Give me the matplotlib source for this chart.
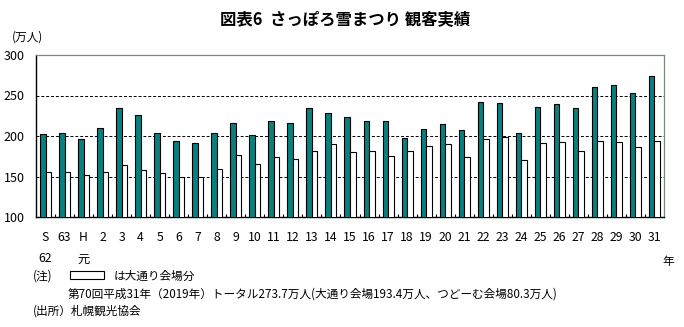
import matplotlib.pyplot as plt
import numpy as np

plt.rcParams['font.family'] = ['Noto Sans CJK JP', 'DejaVu Sans']

# data (万人)
years = ['S\n62', '63', 'H\n元'] + [str(i) for i in range(2, 32)]
total = [203, 204, 196, 210, 235, 226, 204, 194, 191, 204, 216, 201, 219, 216,
         234, 229, 223, 218, 219, 198, 209, 215, 208, 242, 241, 204, 236, 240,
         235, 261, 263, 253, 273.7]
odori = [156, 156, 152, 156, 164, 158, 154, 150, 150, 159, 176, 165, 174, 171,
         181, 190, 180, 181, 175, 181, 188, 190, 174, 196, 199, 170, 191, 193,
         182, 194, 192, 187, 193.4]

fig = plt.figure(figsize=(6.84, 3.27), dpi=100)
ax = fig.add_axes([36 / 684, 1 - 217 / 327, 628 / 684, 162 / 327])

x = np.arange(len(years))
w = 0.29
ax.bar(x - w / 2, total, width=w, bottom=0, color='#0a7f80', edgecolor='black', linewidth=0.8, zorder=3)
ax.bar(x + w / 2, odori, width=w, bottom=0, color='white', edgecolor='black', linewidth=0.8, zorder=3)

ax.set_xlim(-0.5, len(years) - 0.5)
ax.set_ylim(100, 300)
ax.set_yticks([100, 150, 200, 250, 300])
ax.tick_params(axis='y', length=0, pad=8, labelsize=9)
for v in [150, 200, 250]:
    ax.axhline(v, color='black', linestyle=(0, (3, 2)), linewidth=0.7, zorder=1)

ax.set_xticks(x)
ax.set_xticklabels(years, fontsize=8.8, linespacing=1.85, va='top')
ax.tick_params(axis='x', which='major', length=0, pad=10)
ax.set_xticks(np.arange(0.5, len(years) - 1, 1), minor=True)
ax.tick_params(axis='x', which='minor', direction='in', length=2.5, width=0.8)

for s in ['top', 'right']:
    ax.spines[s].set_color('#7a8a7c')
    ax.spines[s].set_linewidth(0.9)
ax.spines['left'].set_linewidth(1.0)
ax.spines['bottom'].set_linewidth(1.0)

fig.text(345 / 684, 1 - 19 / 327, '図表6  さっぽろ雪まつり 観客実績', ha='center', va='center',
         fontsize=11.8, fontweight='bold')
fig.text(12 / 684, 1 - 37 / 327, '(万人)', ha='left', va='center', fontsize=8.4)
fig.text(668 / 684, 1 - 262 / 327, '年', ha='center', va='center', fontsize=8.4)

fig.text(33 / 684, 1 - 276 / 327, '(注)', ha='left', va='center', fontsize=8.4)
fig.patches.append(plt.Rectangle((70 / 684, 1 - 279 / 327), 34 / 684, 8 / 327,
                                 transform=fig.transFigure, facecolor='white',
                                 edgecolor='black', linewidth=0.8))
fig.text(114 / 684, 1 - 276 / 327, 'は大通り会場分', ha='left', va='center', fontsize=8.4)
fig.text(68 / 684, 1 - 294 / 327,
         '第70回平成31年（2019年）トータル273.7万人(大通り会場193.4万人、つどーむ会場80.3万人)',
         ha='left', va='center', fontsize=8.4)
fig.text(33 / 684, 1 - 311 / 327, '(出所）札幌観光協会', ha='left', va='center', fontsize=8.4)

plt.savefig('out.png', dpi=100)
